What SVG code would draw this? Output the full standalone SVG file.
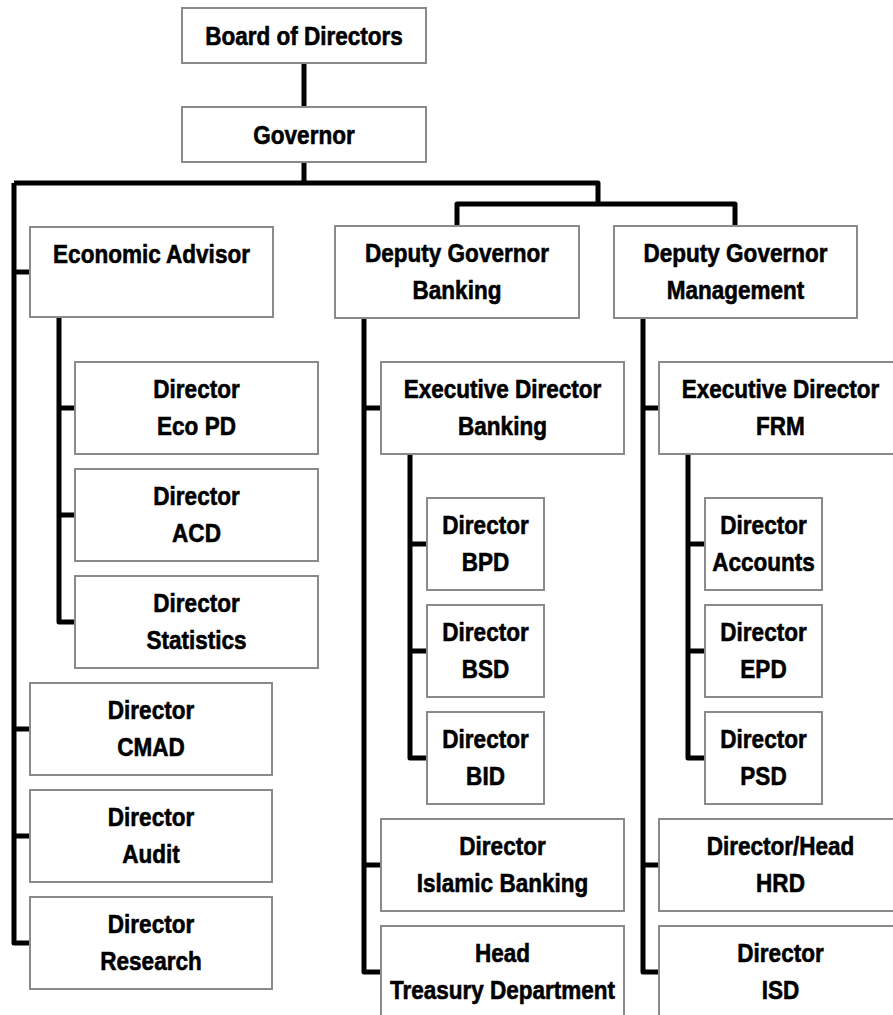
<svg xmlns="http://www.w3.org/2000/svg" width="893" height="1015" viewBox="0 0 893 1015">
<style>
.box{fill:#fff;stroke:#8a8a8a;stroke-width:2}
.t{font-family:"Liberation Sans",Arial,sans-serif;font-weight:bold;font-size:26.5px;text-anchor:middle;fill:#000;stroke:#000;stroke-width:0.6}
.c{fill:none;stroke:#000;stroke-width:5;stroke-linejoin:round}
</style>
<rect width="893" height="1015" fill="#fff"/>
<g id="connectors" class="c">
<path d="M304 63V107M304 162V183M14 183H598V204M457 226V204H735V226"/>
<path d="M14 183V943H30M14 272H30M14 729H30M14 836H30"/>
<path d="M59 317V622H75M59 408H75M59 515H75"/>
<path d="M364 318V972H381M364 408H381M364 865H381"/>
<path d="M410 454V758H427M410 544H427M410 651H427"/>
<path d="M643 318V972H659M643 408H659M643 865H659"/>
<path d="M688 454V758H705M688 544H705M688 651H705"/>
</g>
<g id="board"><rect class="box" x="182" y="8" width="244" height="55"/><g transform="translate(304,0) scale(0.85,1)"><text class="t" x="0" y="45">Board of Directors</text></g></g>
<g id="governor"><rect class="box" x="182" y="107" width="244" height="55"/><g transform="translate(304,0) scale(0.85,1)"><text class="t" x="0" y="144">Governor</text></g></g>
<g id="econ-advisor"><rect class="box" x="30" y="227" width="243" height="90"/><g transform="translate(151.5,0) scale(0.85,1)"><text class="t" x="0" y="263">Economic Advisor</text></g></g>
<g id="dg-banking"><rect class="box" x="335" y="226" width="244" height="92"/><g transform="translate(457,0) scale(0.85,1)"><text class="t" x="0" y="262.5">Deputy Governor</text><text class="t" x="0" y="299.5">Banking</text></g></g>
<g id="dg-management"><rect class="box" x="614" y="226" width="243" height="92"/><g transform="translate(735.5,0) scale(0.85,1)"><text class="t" x="0" y="262.5">Deputy Governor</text><text class="t" x="0" y="299.5">Management</text></g></g>
<g id="dir-ecopd"><rect class="box" x="75" y="362" width="243" height="92"/><g transform="translate(196.5,0) scale(0.85,1)"><text class="t" x="0" y="398.5">Director</text><text class="t" x="0" y="435.5">Eco PD</text></g></g>
<g id="dir-acd"><rect class="box" x="75" y="469" width="243" height="92"/><g transform="translate(196.5,0) scale(0.85,1)"><text class="t" x="0" y="505.5">Director</text><text class="t" x="0" y="542.5">ACD</text></g></g>
<g id="dir-statistics"><rect class="box" x="75" y="576" width="243" height="92"/><g transform="translate(196.5,0) scale(0.85,1)"><text class="t" x="0" y="612.5">Director</text><text class="t" x="0" y="649.5">Statistics</text></g></g>
<g id="dir-cmad"><rect class="box" x="30" y="683" width="242" height="92"/><g transform="translate(151,0) scale(0.85,1)"><text class="t" x="0" y="719.5">Director</text><text class="t" x="0" y="756.5">CMAD</text></g></g>
<g id="dir-audit"><rect class="box" x="30" y="790" width="242" height="92"/><g transform="translate(151,0) scale(0.85,1)"><text class="t" x="0" y="826.5">Director</text><text class="t" x="0" y="863.5">Audit</text></g></g>
<g id="dir-research"><rect class="box" x="30" y="897" width="242" height="92"/><g transform="translate(151,0) scale(0.85,1)"><text class="t" x="0" y="933.5">Director</text><text class="t" x="0" y="970.5">Research</text></g></g>
<g id="ed-banking"><rect class="box" x="381" y="362" width="243" height="92"/><g transform="translate(502.5,0) scale(0.85,1)"><text class="t" x="0" y="398.5">Executive Director</text><text class="t" x="0" y="435.5">Banking</text></g></g>
<g id="dir-bpd"><rect class="box" x="427" y="498" width="117" height="92"/><g transform="translate(485.5,0) scale(0.85,1)"><text class="t" x="0" y="534.5">Director</text><text class="t" x="0" y="571.5">BPD</text></g></g>
<g id="dir-bsd"><rect class="box" x="427" y="605" width="117" height="92"/><g transform="translate(485.5,0) scale(0.85,1)"><text class="t" x="0" y="641.5">Director</text><text class="t" x="0" y="678.5">BSD</text></g></g>
<g id="dir-bid"><rect class="box" x="427" y="712" width="117" height="92"/><g transform="translate(485.5,0) scale(0.85,1)"><text class="t" x="0" y="748.5">Director</text><text class="t" x="0" y="785.5">BID</text></g></g>
<g id="dir-islamic"><rect class="box" x="381" y="819" width="243" height="92"/><g transform="translate(502.5,0) scale(0.85,1)"><text class="t" x="0" y="855.5">Director</text><text class="t" x="0" y="892.5">Islamic Banking</text></g></g>
<g id="head-treasury"><rect class="box" x="381" y="926" width="243" height="92"/><g transform="translate(502.5,0) scale(0.85,1)"><text class="t" x="0" y="962.5">Head</text><text class="t" x="0" y="999.5">Treasury Department</text></g></g>
<g id="ed-frm"><rect class="box" x="659" y="362" width="243" height="92"/><g transform="translate(780.5,0) scale(0.85,1)"><text class="t" x="0" y="398.5">Executive Director</text><text class="t" x="0" y="435.5">FRM</text></g></g>
<g id="dir-accounts"><rect class="box" x="705" y="498" width="117" height="92"/><g transform="translate(763.5,0) scale(0.85,1)"><text class="t" x="0" y="534.5">Director</text><text class="t" x="0" y="571.5">Accounts</text></g></g>
<g id="dir-epd"><rect class="box" x="705" y="605" width="117" height="92"/><g transform="translate(763.5,0) scale(0.85,1)"><text class="t" x="0" y="641.5">Director</text><text class="t" x="0" y="678.5">EPD</text></g></g>
<g id="dir-psd"><rect class="box" x="705" y="712" width="117" height="92"/><g transform="translate(763.5,0) scale(0.85,1)"><text class="t" x="0" y="748.5">Director</text><text class="t" x="0" y="785.5">PSD</text></g></g>
<g id="dir-hrd"><rect class="box" x="659" y="819" width="243" height="92"/><g transform="translate(780.5,0) scale(0.85,1)"><text class="t" x="0" y="855.5">Director/Head</text><text class="t" x="0" y="892.5">HRD</text></g></g>
<g id="dir-isd"><rect class="box" x="659" y="926" width="243" height="92"/><g transform="translate(780.5,0) scale(0.85,1)"><text class="t" x="0" y="962.5">Director</text><text class="t" x="0" y="999.5">ISD</text></g></g>
</svg>
